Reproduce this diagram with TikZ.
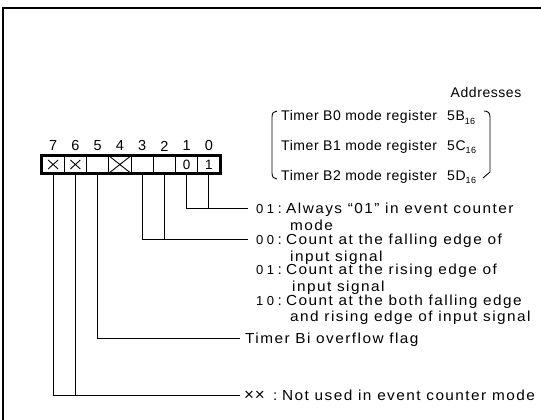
\documentclass[tikz,border=0pt]{standalone}
\usepackage{fontspec}
\setmainfont{Liberation Sans}[LetterSpace=4]
\newfontfamily\widefont{Liberation Sans}[FakeStretch=1.06, LetterSpace=10]
\newcommand{\subsix}{\raisebox{-0.45ex}{\fontsize{9}{10}\selectfont 16}}
\tikzset{
  txt/.style={anchor=base west, inner sep=0pt, font=\widefont\fontsize{14.5}{17}\selectfont},
  reg/.style={anchor=base west, inner sep=0pt, font=\fontsize{14}{16}\selectfont},
  num/.style={anchor=base west, inner sep=0pt, font=\fontsize{13}{16}\selectfont},
  bitnum/.style={inner sep=0pt, font=\fontsize{14.5}{17}\selectfont},
  cell/.style={draw, line width=1pt, minimum width=22.25pt, minimum height=17pt, inner sep=0pt, font=\fontsize{13.5}{16}\selectfont},
  conn/.style={line width=0.9pt},
  frame/.style={line width=2.5pt},
}
\begin{document}
\begin{tikzpicture}[x=1pt,y=-1pt]
\useasboundingbox (0,0) rectangle (541,420);
% frame (top and left edges visible)
\draw[frame] (541,8) -- (3,8) -- (3,420);

% register cells, bit 7 on the left
\foreach \k/\t in {7/{},6/{},5/{},4/{},3/{},2/{},1/{0},0/{1}}{
  \node[cell] (b\k) at ({42+(7-\k+0.5)*22.25},164.5) {\t};
  \node[bitnum] (n\k) at ({42+(7-\k+0.5)*22.25},146) {\k};
}
\draw[line width=2.2pt] (b7.north west) rectangle (b0.south east);
\draw[line width=0.9pt] ([shift={(1.5,1)}]b4.north west) -- ([shift={(-1.5,-1)}]b4.south east)
                        ([shift={(-1.5,1)}]b4.north east) -- ([shift={(1.5,-1)}]b4.south west);
\foreach \k in {7,6}{
  \draw[line width=0.9pt] ([shift={(-5,-4.5)}]b\k.center) -- ([shift={(5,4.5)}]b\k.center)
                          ([shift={(5,-4.5)}]b\k.center) -- ([shift={(-5,4.5)}]b\k.center);
}

% register names and addresses
\node[reg, anchor=base] (addr) at (486,97) {Addresses};
\node[reg] (r0) at (281,121) {Timer B0 mode register};
\node[reg] (r1) at (281,150) {Timer B1 mode register};
\node[reg] (r2) at (281,180) {Timer B2 mode register};
\node[reg] (a0) at (447,121) {5B\subsix};
\node[reg] (a1) at (447,150) {5C\subsix};
\node[reg] (a2) at (447,180) {5D\subsix};
\draw[line width=0.9pt] (277,111) .. controls (274,111) and (272,113) .. (272,117) -- (272,173)
      .. controls (272,177) and (274,179) .. (277,179);
\draw[line width=0.9pt] (484,111) .. controls (488,111) and (490,113) .. (490,117) -- (490,172) -- (483,178);

% bit descriptions
\node[num] (v1) at (256,213) {0\kern3.5pt1};
\node[txt] (k1) at (277.5,213) {:};
\node[txt] (d1) at (286,213) {Always “01” in event counter};
\node[txt] (d1b) at (290,230) {mode};
\node[num] (v2) at (256,244) {0\kern3.5pt0};
\node[txt] (k2) at (277.5,244) {:};
\node[txt] (d2) at (286,244) {Count at the falling edge of};
\node[txt] (d2b) at (290,261) {input signal};
\node[num] (v3) at (256,274) {0\kern3.5pt1};
\node[txt] (k3) at (277.5,274) {:};
\node[txt] (d3) at (286,274) {Count at the rising edge of};
\node[txt] (d3b) at (292,291) {input signal};
\node[num] (v4) at (256,305) {1\kern3.5pt0};
\node[txt] (k4) at (277.5,305) {:};
\node[txt] (d4) at (286,305) {Count at the both falling edge};
\node[txt] (d4b) at (290,321) {and rising edge of input signal};
\node[txt] (fl) at (245,343) {Timer Bi overflow flag};
\node[num, font=\fontsize{17}{19}\selectfont] (vx) at (244,400) {××};
\node[txt] (kx) at (273,400) {:};
\node[txt] (dx) at (282,400) {Not used in event counter mode};

% connectors
\coordinate (e1) at (248,208);
\coordinate (e2) at (248,239);
\coordinate (e3) at (240,338);
\coordinate (e4) at (240,395);
\draw[conn] (b1.south) |- (e1);
\draw[conn] (b0.south) -- (b0.south |- e1);
\draw[conn] (b3.south) |- (e2);
\draw[conn] (b2.south) -- (b2.south |- e2);
\draw[conn] (b5.south) |- (e3);
\draw[conn] (b7.south) |- (e4);
\draw[conn] (b6.south) -- (b6.south |- e4);
\end{tikzpicture}
\end{document}
